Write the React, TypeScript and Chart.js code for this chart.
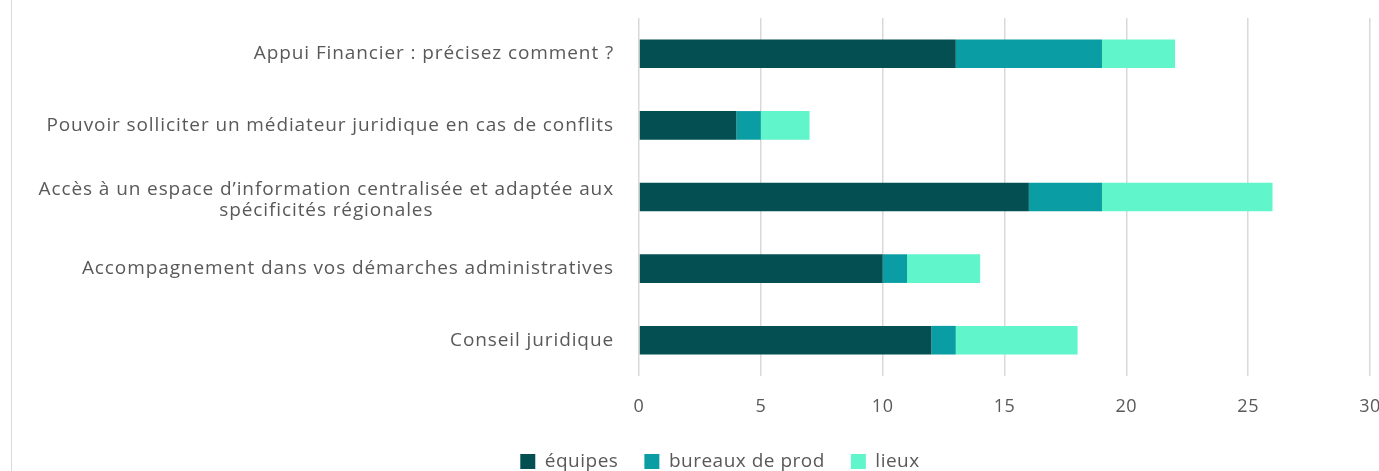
import React, { useEffect, useRef } from "react";
import { Chart, registerables } from "chart.js";

Chart.register(...registerables);

const categories: (string | string[])[] = [
  "Appui Financier : précisez comment ?",
  "Pouvoir solliciter un médiateur juridique en cas de conflits",
  ["Accès à un espace d’information centralisée et adaptée aux", "spécificités régionales"],
  "Accompagnement dans vos démarches administratives",
  "Conseil juridique",
];
const equipes = [13, 4, 16, 10, 12];
const bureaux = [6, 1, 3, 1, 1];
const lieux = [3, 2, 7, 3, 5];
const seriesNames = ["équipes", "bureaux de prod", "lieux"];
const xTicksMax = 30;
const xTickStep = 5;

const FONT = "'Open Sans', sans-serif";
const FS = 18;
const Y_FS = 19;
const LEG_FS = 19;
const TXT = "#595959";
const LS = "0.5px";

const spacingPlugin = {
  id: "spacing",
  beforeLayout(chart: any) {
    chart.ctx.letterSpacing = LS;
  },
  afterLayout(chart: any) {
    if (chart.legend) {
      chart.legend.left += 29;
      chart.legend.right += 29;
    }
  },
  beforeDraw(chart: any) {
    chart.ctx.letterSpacing = LS;
  },
};

const yLabelPlugin = {
  id: "yLabels",
  afterDraw(chart: any) {
    const y = chart.scales.y;
    const ctx = chart.ctx;
    ctx.save();
    ctx.letterSpacing = "0.9px";
    ctx.font = `${Y_FS}px ${FONT}`;
    ctx.fillStyle = TXT;
    ctx.textBaseline = "middle";
    ctx.textAlign = "center";
    const labels = chart.data.labels;
    labels.forEach((lab: any, i: number) => {
      const lines: string[] = Array.isArray(lab) ? lab : [lab];
      const w = Math.max(...lines.map((l) => ctx.measureText(l).width));
      const right = y.right - 25;
      const cx = right - w / 2;
      const py = y.getPixelForTick(i);
      const lh = 21;
      const off = lines.length > 1 ? 3 : 0;
      lines.forEach((l, j) => {
        ctx.fillText(l, cx, py + off + (j - (lines.length - 1) / 2) * lh);
      });
    });
    ctx.restore();
  },
};

export default function App() {
  const ref = useRef<HTMLCanvasElement | null>(null);
  useEffect(() => {
    if (!ref.current) return;
    const chart = new Chart(ref.current, {
      type: "bar",
      data: {
        labels: categories as any,
        datasets: [
          { label: seriesNames[0], data: equipes, backgroundColor: "#044F51" },
          { label: seriesNames[1], data: bureaux, backgroundColor: "#0A9DA4" },
          { label: seriesNames[2], data: lieux, backgroundColor: "#61F5CC" },
        ],
      },
      options: {
        indexAxis: "y",
        animation: false,
        responsive: false,
        maintainAspectRatio: false,
        layout: { padding: { top: 18, right: 56, left: 0, bottom: 0 } },
        datasets: { bar: { barPercentage: 0.4, categoryPercentage: 1 } },
        scales: {
          x: {
            stacked: true,
            min: 0,
            max: xTicksMax,
            ticks: {
              stepSize: xTickStep,
              color: TXT,
              font: { family: FONT, size: FS },
              padding: 20,
            },
            grid: { color: "#d9d9d9", lineWidth: 1.5, drawTicks: false },
            border: { display: false },
            afterFit: (s: any) => {
              s.height = 50;
            },
          },
          y: {
            stacked: true,
            ticks: { display: false },
            grid: { display: false },
            border: { display: false },
            afterFit: (s: any) => {
              s.width = 627;
            },
          },
        },
        plugins: {
          legend: {
            position: "bottom",
            labels: {
              color: TXT,
              font: { family: FONT, size: LEG_FS },
              boxWidth: 15,
              boxHeight: 15,
              padding: 26,
            },
          },
          tooltip: { enabled: false },
        },
      },
      plugins: [spacingPlugin, yLabelPlugin],
    });
    return () => chart.destroy();
  }, []);

  return (
    <div
      style={{
        position: "fixed",
        left: 0,
        top: 0,
        width: 1379,
        height: 471,
        overflow: "hidden",
        background: "#fff",
      }}
    >
      <div
        style={{
          position: "absolute",
          left: 11,
          top: 0,
          width: 1414,
          height: 481,
          borderLeft: "1px solid #d9d9d9",
        }}
      >
        <canvas ref={ref} width={1414} height={481} style={{ display: "block" }} />
      </div>
    </div>
  );
}
